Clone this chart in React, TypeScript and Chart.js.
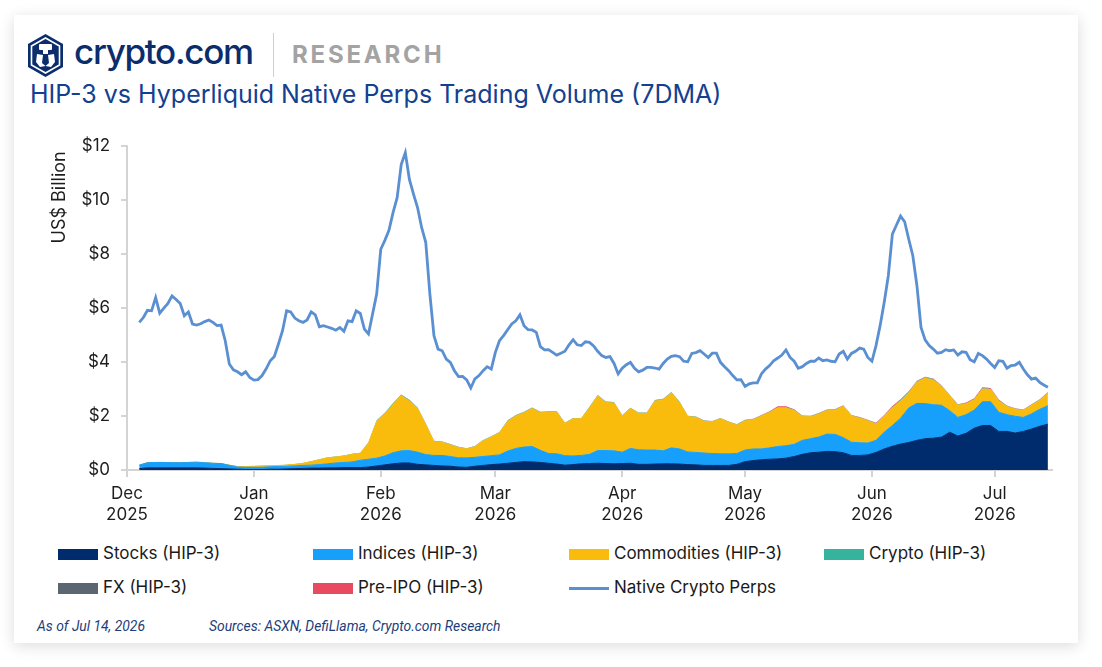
import React, { useEffect, useRef } from "react";
import { Chart, registerables } from "chart.js";

Chart.register(...registerables);

// x values are days counted from 1 Dec 2025
const FIRST_DAY = 3; // 4 Dec 2025
const AREA_STEP_DAYS = 2;
const LINE_STEP_DAYS = 1;
const AXIS_MIN_DAY = 0;
const AXIS_MAX_DAY = 226;

const MONTH_TICK_DAYS = [0, 31, 62, 90, 121, 151, 182, 212];
const MONTH_TICK_LABELS = [
  ["Dec", "2025"],
  ["Jan", "2026"],
  ["Feb", "2026"],
  ["Mar", "2026"],
  ["Apr", "2026"],
  ["May", "2026"],
  ["Jun", "2026"],
  ["Jul", "2026"],
];

const Y_MIN = 0;
const Y_MAX = 12;
const Y_STEP = 2;

// HIP-3 series, every 2 days from 4 Dec 2025 (US$ bn)
const STOCKS = [
  0.05, 0.08, 0.08, 0.08, 0.08, 0.08, 0.08, 0.08, 0.07, 0.06, 0.05,
  0.04, 0.03, 0.02, 0.02, 0.02, 0.03, 0.03, 0.04, 0.05, 0.06, 0.07, 0.07, 0.08, 0.08, 0.09, 0.09, 0.09,
  0.11, 0.15, 0.19, 0.23, 0.26, 0.26, 0.21, 0.19, 0.17, 0.15, 0.14, 0.11, 0.10, 0.14, 0.17, 0.20, 0.22, 0.25, 0.28, 0.31, 0.30, 0.28, 0.25, 0.22, 0.18, 0.20, 0.23, 0.24, 0.25,
  0.24, 0.23, 0.24, 0.25, 0.21, 0.21, 0.22, 0.23, 0.23, 0.22, 0.20, 0.19, 0.17, 0.17, 0.17, 0.17, 0.21, 0.31, 0.35, 0.38, 0.40, 0.41, 0.44, 0.50, 0.58, 0.64, 0.66, 0.69, 0.68,
  0.64, 0.54, 0.54, 0.56, 0.65, 0.78, 0.88, 0.96, 1.02, 1.10, 1.16, 1.18, 1.22, 1.40, 1.26, 1.36, 1.55, 1.65, 1.65, 1.43, 1.43, 1.37, 1.43, 1.52, 1.62, 1.70,
];

const INDICES = [
  0.13, 0.19, 0.20, 0.20, 0.19, 0.19, 0.20, 0.21, 0.20, 0.19, 0.19,
  0.13, 0.08, 0.08, 0.08, 0.08, 0.09, 0.10, 0.10, 0.10, 0.11, 0.11, 0.13, 0.15, 0.18, 0.19, 0.21, 0.27,
  0.29, 0.29, 0.33, 0.41, 0.45, 0.46, 0.45, 0.38, 0.37, 0.39, 0.36, 0.34, 0.35, 0.33, 0.33, 0.33, 0.34, 0.45, 0.52, 0.54, 0.57, 0.45, 0.36, 0.38, 0.35, 0.32, 0.31, 0.34, 0.47,
  0.48, 0.48, 0.42, 0.55, 0.54, 0.53, 0.52, 0.48, 0.59, 0.56, 0.47, 0.46, 0.46, 0.44, 0.43, 0.43, 0.40, 0.43, 0.43, 0.40, 0.42, 0.46, 0.46, 0.45, 0.52, 0.52, 0.56, 0.64, 0.64,
  0.56, 0.49, 0.47, 0.44, 0.45, 0.62, 0.77, 0.96, 1.28, 1.37, 1.30, 1.24, 1.18, 0.80, 0.69, 0.69, 0.67, 0.88, 0.88, 0.71, 0.62, 0.62, 0.52, 0.56, 0.63, 0.68,
];

const COMMODITIES = [
  0, 0, 0, 0, 0, 0, 0, 0, 0, 0, 0,
  0.01, 0.02, 0.03, 0.04, 0.05, 0.04, 0.04, 0.04, 0.06, 0.08, 0.13, 0.18, 0.22, 0.22, 0.24, 0.28, 0.26,
  0.60, 1.36, 1.56, 1.79, 2.04, 1.83, 1.62, 1.11, 0.51, 0.49, 0.43, 0.38, 0.33, 0.39, 0.58, 0.69, 0.82, 1.10, 1.20, 1.27, 1.41, 1.39, 1.53, 1.54, 1.19, 1.38, 1.36, 1.72, 2.02,
  1.78, 1.77, 1.34, 1.48, 1.35, 1.36, 1.81, 1.89, 2.03, 1.72, 1.31, 1.30, 1.17, 1.18, 1.30, 1.17, 1.05, 1.08, 1.08, 1.22, 1.31, 1.43, 1.40, 1.25, 0.88, 0.81, 0.85, 0.87, 0.90,
  1.16, 0.97, 0.91, 0.82, 0.60, 0.59, 0.65, 0.63, 0.55, 0.78, 0.94, 0.91, 0.70, 0.55, 0.45, 0.40, 0.38, 0.47, 0.45, 0.42, 0.30, 0.26, 0.25, 0.32, 0.33, 0.47,
];

const CRYPTO = [
  0.01, 0.01, 0.01, 0.01, 0.01, 0.01, 0.01, 0.01, 0.01, 0.01, 0.01,
  0.01, 0.01, 0.01, 0.01, 0.01, 0.01, 0.01, 0.01, 0.01, 0.01, 0.01, 0.02, 0.02, 0.02, 0.02, 0.02, 0.02,
  0.02, 0.03, 0.03, 0.04, 0.04, 0.04, 0.03, 0.03, 0.02, 0.02, 0.02, 0.02, 0.02, 0.02, 0.02, 0.02, 0.02, 0.03, 0.03, 0.03, 0.03, 0.03, 0.03, 0.03, 0.02, 0.02, 0.02, 0.03, 0.03,
  0.03, 0.03, 0.02, 0.02, 0.02, 0.02, 0.03, 0.03, 0.03, 0.03, 0.02, 0.02, 0.02, 0.02, 0.02, 0.02, 0.02, 0.02, 0.02, 0.02, 0.02, 0.02, 0.02, 0.02, 0.02, 0.02, 0.02, 0.02, 0.02,
  0.02, 0.02, 0.02, 0.02, 0.02, 0.02, 0.03, 0.03, 0.03, 0.03, 0.03, 0.03, 0.02, 0.02, 0.02, 0.02, 0.02, 0.02, 0.02, 0.02, 0.02, 0.02, 0.02, 0.02, 0.02, 0.02,
];

const FX = [
  0, 0, 0, 0, 0, 0, 0, 0, 0, 0, 0,
  0, 0, 0, 0, 0, 0, 0, 0, 0, 0, 0, 0, 0, 0, 0, 0, 0,
  0.01, 0.01, 0.01, 0.01, 0.01, 0.01, 0.01, 0.01, 0.01, 0.01, 0.01, 0.01, 0.01, 0.01, 0.01, 0.01, 0.01, 0.01, 0.01, 0.01, 0.01, 0.01, 0.01, 0.01, 0.01, 0.01, 0.01, 0.01, 0.01,
  0.01, 0.01, 0.01, 0.01, 0.01, 0.01, 0.01, 0.01, 0.01, 0.01, 0.01, 0.01, 0.01, 0.01, 0.01, 0.01, 0.01, 0.01, 0.01, 0.01, 0.01, 0.01, 0.01, 0.01, 0.01, 0.01, 0.01, 0.01, 0.01,
  0.01, 0.01, 0.01, 0.01, 0.01, 0.01, 0.01, 0.01, 0.01, 0.01, 0.01, 0.01, 0.01, 0.01, 0.01, 0.01, 0.01, 0.01, 0.01, 0.01, 0.01, 0.01, 0.01, 0.01, 0.01, 0.01,
];

const PRE_IPO = [
  0, 0, 0, 0, 0, 0, 0, 0, 0, 0, 0,
  0, 0, 0, 0, 0, 0, 0, 0, 0, 0, 0, 0, 0, 0, 0, 0, 0,
  0, 0, 0, 0, 0, 0, 0, 0, 0, 0, 0, 0, 0, 0, 0, 0, 0, 0, 0, 0, 0, 0, 0, 0, 0, 0, 0, 0, 0,
  0, 0, 0, 0, 0, 0, 0, 0, 0, 0, 0, 0, 0, 0, 0, 0, 0.01, 0.01, 0.01, 0.01, 0.02, 0.03, 0.03, 0.02, 0.01, 0.01, 0.01, 0.01, 0.01,
  0.01, 0.01, 0.01, 0.01, 0.02, 0.02, 0.03, 0.03, 0.03, 0.02, 0.02, 0.02, 0.01, 0.01, 0.01, 0.02, 0.03, 0.04, 0.03, 0.02, 0.01, 0.01, 0.01, 0.01, 0.01, 0.01,
];

// Native crypto perps, daily from 4 Dec 2025 (US$ bn)
const NATIVE_PERPS = [
  5.47, 5.65, 5.92, 5.9, 6.39, 5.81, 6.0, 6.17, 6.45, 6.32,
  6.17, 5.72, 5.86, 5.41, 5.37, 5.42, 5.5, 5.56, 5.47, 5.35,
  5.37, 4.79, 3.93, 3.71, 3.64, 3.53, 3.64, 3.43, 3.33, 3.35,
  3.5, 3.75, 4.05, 4.21, 4.67, 5.16, 5.9, 5.86, 5.63, 5.53,
  5.47, 5.56, 5.86, 5.75, 5.31, 5.35, 5.3, 5.25, 5.18, 5.28,
  5.14, 5.53, 5.5, 5.9, 5.8, 5.22, 5.04, 5.78, 6.52, 8.18,
  8.51, 8.88, 9.54, 10.09, 11.32, 11.76, 10.77, 10.22, 9.72, 8.98,
  8.43, 6.52, 4.98, 4.48, 4.42, 4.11, 3.99, 3.68, 3.46, 3.47,
  3.34, 3.04, 3.38, 3.5, 3.68, 3.83, 3.74, 4.36, 4.79, 4.98,
  5.2, 5.41, 5.53, 5.75, 5.35, 5.2, 5.19, 5.1, 4.57, 4.45,
  4.46, 4.36, 4.26, 4.33, 4.4, 4.64, 4.83, 4.64, 4.61, 4.75,
  4.73, 4.6, 4.4, 4.24, 4.17, 4.2, 3.95, 3.56, 3.77, 3.9,
  3.99, 3.77, 3.64, 3.7, 3.8, 3.8, 3.78, 3.74, 3.95, 4.11,
  4.21, 4.24, 4.2, 4.03, 4.01, 4.32, 4.35, 4.42, 4.3, 4.17,
  4.33, 4.33, 3.99, 3.83, 3.68, 3.5, 3.34, 3.35, 3.1, 3.19,
  3.23, 3.23, 3.56, 3.74, 3.87, 4.05, 4.15, 4.26, 4.45, 4.17,
  4.03, 3.77, 3.83, 3.95, 4.03, 4.03, 4.15, 4.05, 4.08, 4.03,
  4.01, 4.3, 4.4, 4.11, 4.32, 4.4, 4.52, 4.48, 4.17, 4.03,
  4.61, 5.35, 6.21, 7.19, 8.74, 9.08, 9.41, 9.2, 8.55, 7.94,
  6.83, 5.28, 4.82, 4.61, 4.48, 4.33, 4.36, 4.46, 4.42, 4.45,
  4.26, 4.38, 4.36, 4.09, 4.01, 4.32, 4.24, 4.11, 3.95, 3.8,
  4.05, 4.03, 3.77, 3.87, 3.89, 3.99, 3.74, 3.53, 3.37, 3.41,
  3.25, 3.15, 3.07,
];

const COLORS = {
  stocks: "#002c6e",
  indices: "#16a0fb",
  commodities: "#f9bc0d",
  crypto: "#36b39c",
  fx: "#5c6670",
  preIpo: "#e84b60",
  native: "#5a8fd1",
};

const LEGEND_ROW1 = [
  { label: "Stocks (HIP-3)", color: COLORS.stocks },
  { label: "Indices (HIP-3)", color: COLORS.indices },
  { label: "Commodities (HIP-3)", color: COLORS.commodities },
  { label: "Crypto (HIP-3)", color: COLORS.crypto },
];
const LEGEND_ROW2 = [
  { label: "FX (HIP-3)", color: COLORS.fx, line: false },
  { label: "Pre-IPO (HIP-3)", color: COLORS.preIpo, line: false },
  { label: "Native Crypto Perps", color: COLORS.native, line: true },
];

const TEXT_FONT = "Inter, 'Noto Sans', sans-serif";

function toPoints(values: number[], step: number) {
  return values.map((v, i) => ({ x: FIRST_DAY + i * step, y: v }));
}

function areaDataset(label: string, values: number[], color: string, fill: any, border: boolean) {
  return {
    type: "line" as const,
    label,
    data: toPoints(values, AREA_STEP_DAYS),
    backgroundColor: color,
    borderColor: border ? color : "rgba(0,0,0,0)",
    borderWidth: border ? 1 : 0,
    pointRadius: 0,
    fill,
    stack: "hip3",
    tension: 0,
  };
}

function ChartCanvas() {
  const ref = useRef<HTMLCanvasElement | null>(null);
  useEffect(() => {
    if (!ref.current) return;
    const chart = new Chart(ref.current, {
      type: "line",
      data: {
        datasets: [
          {
            type: "line",
            label: "Native Crypto Perps",
            data: toPoints(NATIVE_PERPS, LINE_STEP_DAYS),
            borderColor: COLORS.native,
            borderWidth: 2.8,
            pointRadius: 0,
            fill: false,
            stack: "native",
            tension: 0,
          },
          areaDataset("Stocks (HIP-3)", STOCKS, COLORS.stocks, "origin", true),
          areaDataset("Indices (HIP-3)", INDICES, COLORS.indices, "-1", true),
          areaDataset("Commodities (HIP-3)", COMMODITIES, COLORS.commodities, "-1", true),
          areaDataset("Crypto (HIP-3)", CRYPTO, COLORS.crypto, "-1", false),
          areaDataset("FX (HIP-3)", FX, COLORS.fx, "-1", false),
          areaDataset("Pre-IPO (HIP-3)", PRE_IPO, COLORS.preIpo, "-1", false),
        ] as any,
      },
      options: {
        animation: false,
        responsive: true,
        maintainAspectRatio: false,
        layout: { padding: { left: 0, right: 18, top: 5, bottom: 0 } },
        plugins: {
          legend: { display: false },
          tooltip: { enabled: false },
        },
        scales: {
          x: {
            type: "linear",
            min: AXIS_MIN_DAY,
            max: AXIS_MAX_DAY,
            afterBuildTicks: (scale: any) => {
              scale.ticks = MONTH_TICK_DAYS.map((v) => ({ value: v }));
            },
            afterFit: (scale: any) => {
              scale.height = 60;
            },
            ticks: {
              autoSkip: false,
              maxRotation: 0,
              padding: 7,
              color: "#1e1e1e",
              font: { family: TEXT_FONT, size: 17 },
              callback: (value: any) => {
                const i = MONTH_TICK_DAYS.indexOf(Number(value));
                return i >= 0 ? MONTH_TICK_LABELS[i] : "";
              },
            },
            grid: {
              display: true,
              drawOnChartArea: false,
              drawTicks: true,
              tickLength: 7,
              color: "#d4d4d4",
              lineWidth: 2,
            },
            border: { display: true, color: "#d4d4d4", width: 2 },
          },
          y: {
            stacked: true,
            min: Y_MIN,
            max: Y_MAX,
            afterFit: (scale: any) => {
              scale.width = 87;
            },
            ticks: {
              stepSize: Y_STEP,
              padding: 11,
              color: "#1e1e1e",
              font: { family: TEXT_FONT, size: 17 },
              callback: (value: any) => "$" + value,
            },
            grid: {
              display: true,
              drawOnChartArea: false,
              drawTicks: true,
              tickLength: 6,
              color: "#d4d4d4",
              lineWidth: 2,
            },
            border: { display: true, color: "#d4d4d4", width: 2 },
            title: {
              display: true,
              text: "US$ Billion ",
              align: "end",
              color: "#1e1e1e",
              font: { family: TEXT_FONT, size: 18 },
              padding: { top: 9, bottom: 0 },
            },
          },
        },
      } as any,
    });
    return () => chart.destroy();
  }, []);
  return <canvas ref={ref} />;
}

function Logo() {
  return (
    <svg width="35" height="43" viewBox="0 0 35 43" style={{ position: "absolute", left: 28, top: 34 }}>
      <polygon points="17.5,0 35,10 35,33 17.5,43 0,33 0,10" fill="#0b2d6c" />
      <polygon points="17.5,4 31.5,12 31.5,31 17.5,39 3.5,31 3.5,12" fill="none" stroke="#ffffff" strokeWidth="1.6" />
      <rect x="11" y="10" width="13" height="6" rx="1" fill="#ffffff" />
      <rect x="15" y="16" width="5" height="4" fill="#ffffff" />
      <path d="M9 20 L15 21 L14 29 L17.5 32 L12 33 L8 28 Z" fill="#ffffff" />
      <path d="M26 20 L20 21 L21 29 L17.5 32 L23 33 L27 28 Z" fill="#ffffff" />
    </svg>
  );
}

export default function App() {
  const swatch = (color: string, line?: boolean) => (
    <span
      style={{
        position: "absolute",
        left: 0,
        top: line ? 10 : 6,
        width: 40,
        height: line ? 3 : 11,
        background: color,
      }}
    />
  );
  const cols = [58, 313, 569, 824];
  const footerStyle: React.CSSProperties = {
    position: "absolute",
    top: 618,
    fontFamily: "Roboto, sans-serif",
    fontStyle: "italic",
    fontSize: 13.9,
    lineHeight: "16px",
    color: "#1e3d7b",
    whiteSpace: "nowrap",
  };
  return (
    <div
      style={{
        position: "absolute",
        left: 0,
        top: 0,
        width: 1102,
        height: 667,
        background: "#ffffff",
        fontFamily: TEXT_FONT,
        overflow: "hidden",
      }}
    >
      <div
        style={{
          position: "absolute",
          left: 14,
          top: 15,
          width: 1064,
          height: 628,
          background: "#ffffff",
          boxShadow: "0 3px 14px rgba(0,0,0,0.14)",
        }}
      />
      <Logo />
      <div
        style={{
          position: "absolute",
          left: 74,
          top: 34,
          fontSize: 35,
          lineHeight: "35px",
          fontWeight: 500,
          letterSpacing: -1.3,
          color: "#0b2d6c",
          whiteSpace: "nowrap",
        }}
      >
        crypto.com
      </div>
      <div style={{ position: "absolute", left: 273, top: 33, width: 1, height: 44, background: "#cfcfcf" }} />
      <div
        style={{
          position: "absolute",
          left: 292,
          top: 43,
          fontSize: 24,
          lineHeight: "24px",
          fontWeight: 700,
          letterSpacing: 2.8,
          color: "#a3a3a3",
          whiteSpace: "nowrap",
        }}
      >
        RESEARCH
      </div>
      <div
        style={{
          position: "absolute",
          left: 30,
          top: 81.5,
          fontFamily: TEXT_FONT,
          fontSize: 25,
          lineHeight: "25px",
          color: "#13408f",
          whiteSpace: "nowrap",
        }}
      >
        HIP-3 vs Hyperliquid Native Perps Trading Volume (7DMA)
      </div>
      <div style={{ position: "absolute", left: 40, top: 125, width: 1030, height: 405 }}>
        <ChartCanvas />
      </div>
      {LEGEND_ROW1.map((item, i) => (
        <div
          key={item.label}
          style={{ position: "absolute", left: cols[i], top: 543, height: 21, width: 250, whiteSpace: "nowrap" }}
        >
          {swatch(item.color)}
          <span style={{ position: "absolute", left: 45, top: 0, fontSize: 17, lineHeight: "21px", color: "#1a1a1a" }}>
            {item.label}
          </span>
        </div>
      ))}
      {LEGEND_ROW2.map((item, i) => (
        <div
          key={item.label}
          style={{ position: "absolute", left: cols[i], top: 577, height: 21, width: 250, whiteSpace: "nowrap" }}
        >
          {swatch(item.color, item.line)}
          <span style={{ position: "absolute", left: 45, top: 0, fontSize: 17, lineHeight: "21px", color: "#1a1a1a" }}>
            {item.label}
          </span>
        </div>
      ))}
      <div style={{ ...footerStyle, left: 37 }}>As of Jul 14, 2026</div>
      <div style={{ ...footerStyle, left: 209 }}>Sources: ASXN, DefiLlama, Crypto.com Research</div>
    </div>
  );
}
